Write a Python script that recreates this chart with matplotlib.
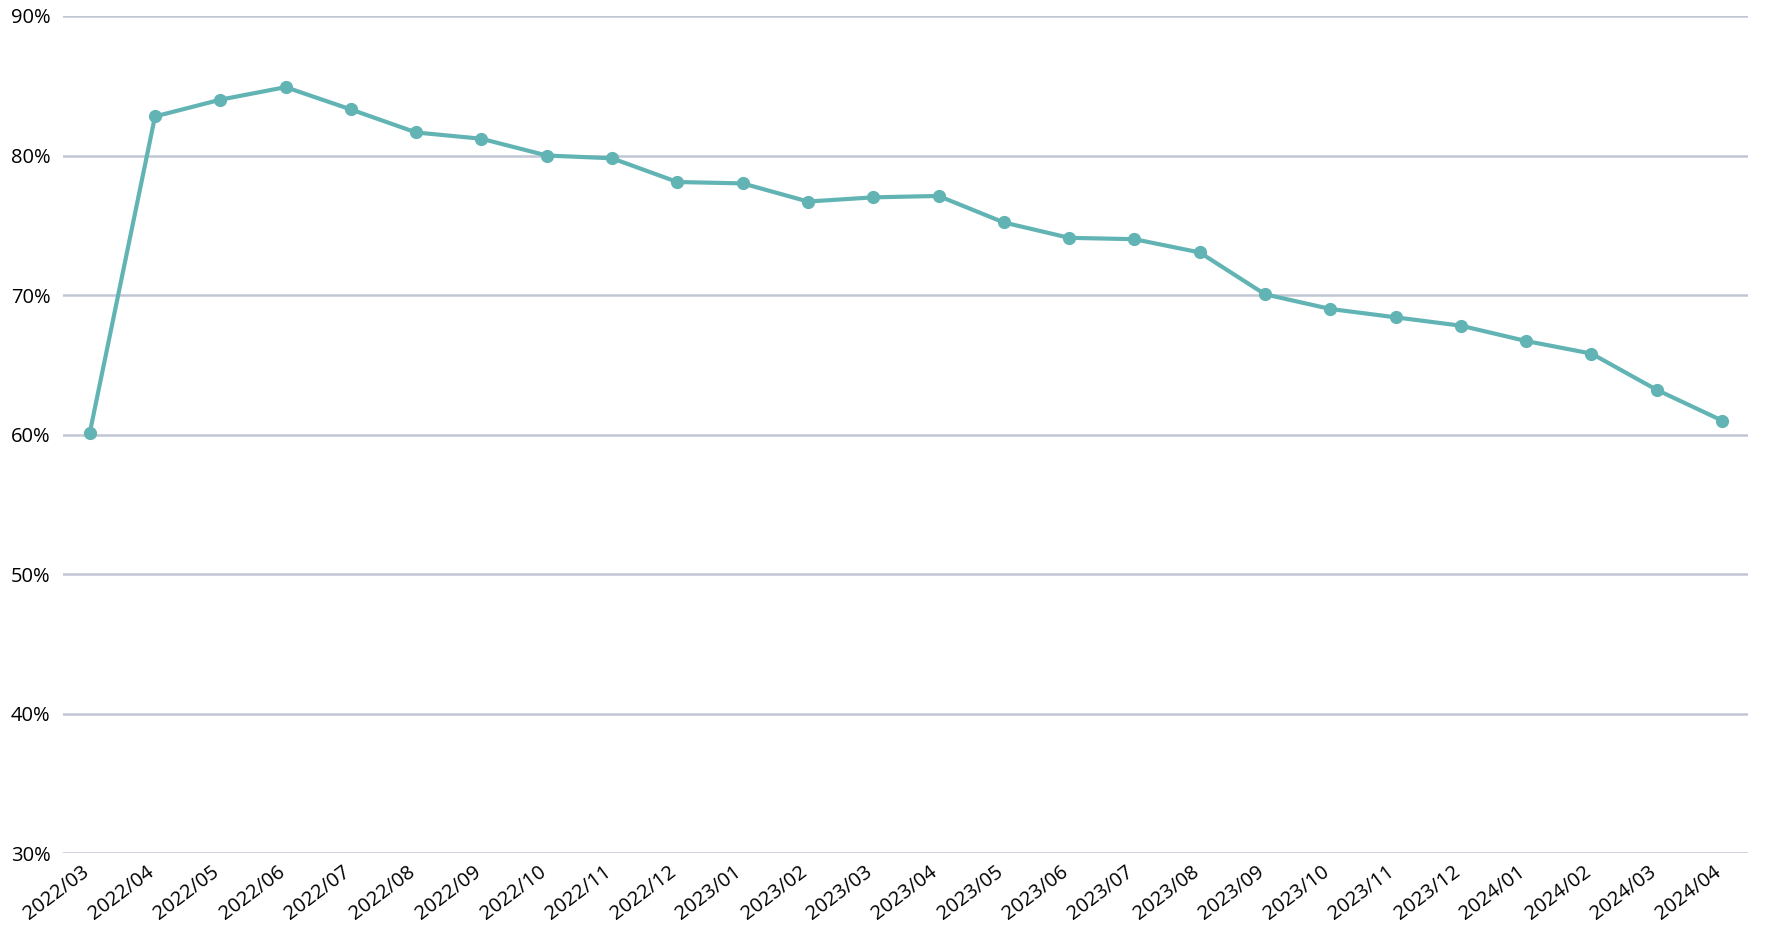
import numpy as np
import matplotlib.pyplot as plt
from matplotlib.ticker import FuncFormatter

plt.rcParams['font.family'] = ['Open Sans', 'DejaVu Sans']

months = ['2022/03', '2022/04', '2022/05', '2022/06', '2022/07', '2022/08',
          '2022/09', '2022/10', '2022/11', '2022/12', '2023/01', '2023/02',
          '2023/03', '2023/04', '2023/05', '2023/06', '2023/07', '2023/08',
          '2023/09', '2023/10', '2023/11', '2023/12', '2024/01', '2024/02',
          '2024/03', '2024/04']
rate = [60.1, 82.8, 84.0, 84.9, 83.3, 81.65, 81.2, 80.0, 79.8, 78.1, 78.0, 76.7,
        77.0, 77.1, 75.2, 74.1, 74.0, 73.05, 70.05, 69.0, 68.4, 67.8, 66.7, 65.8,
        63.2, 61.0]
yticks_vals = [30, 40, 50, 60, 70, 80, 90]

fig = plt.figure(figsize=(17.73, 9.41), dpi=100)
ax = fig.add_axes([0.0355, 0.0935, 0.9505, 0.8895])

x = np.arange(len(months))
ax.plot(x, rate, color='#62b4b4', linewidth=3.0, marker='o', markersize=8.5,
        zorder=3)

ax.set_xlim(-0.41, len(months) - 1 + 0.40)
ax.set_ylim(30, 90)
ax.set_yticks(yticks_vals)
ax.yaxis.set_major_formatter(FuncFormatter(lambda v, p: '%d%%' % v))
ax.set_xticks(x)
ax.set_xticklabels([])

# rotated month labels, end slightly left of the tick
for i, m in enumerate(months):
    ax.annotate(m, xy=(i, 0), xycoords=('data', 'axes fraction'),
                xytext=(-9, -9), textcoords='offset pixels',
                ha='right', va='top', rotation=37, rotation_mode='anchor',
                fontsize=14.5, annotation_clip=False)

ax.grid(axis='y', color='#c0c6d4', linewidth=1.8)
ax.set_axisbelow(True)
for s in ax.spines.values():
    s.set_visible(False)
ax.tick_params(axis='both', length=0, labelsize=14.5)
ax.tick_params(axis='y', pad=9)

plt.savefig('out.png', dpi=100)
